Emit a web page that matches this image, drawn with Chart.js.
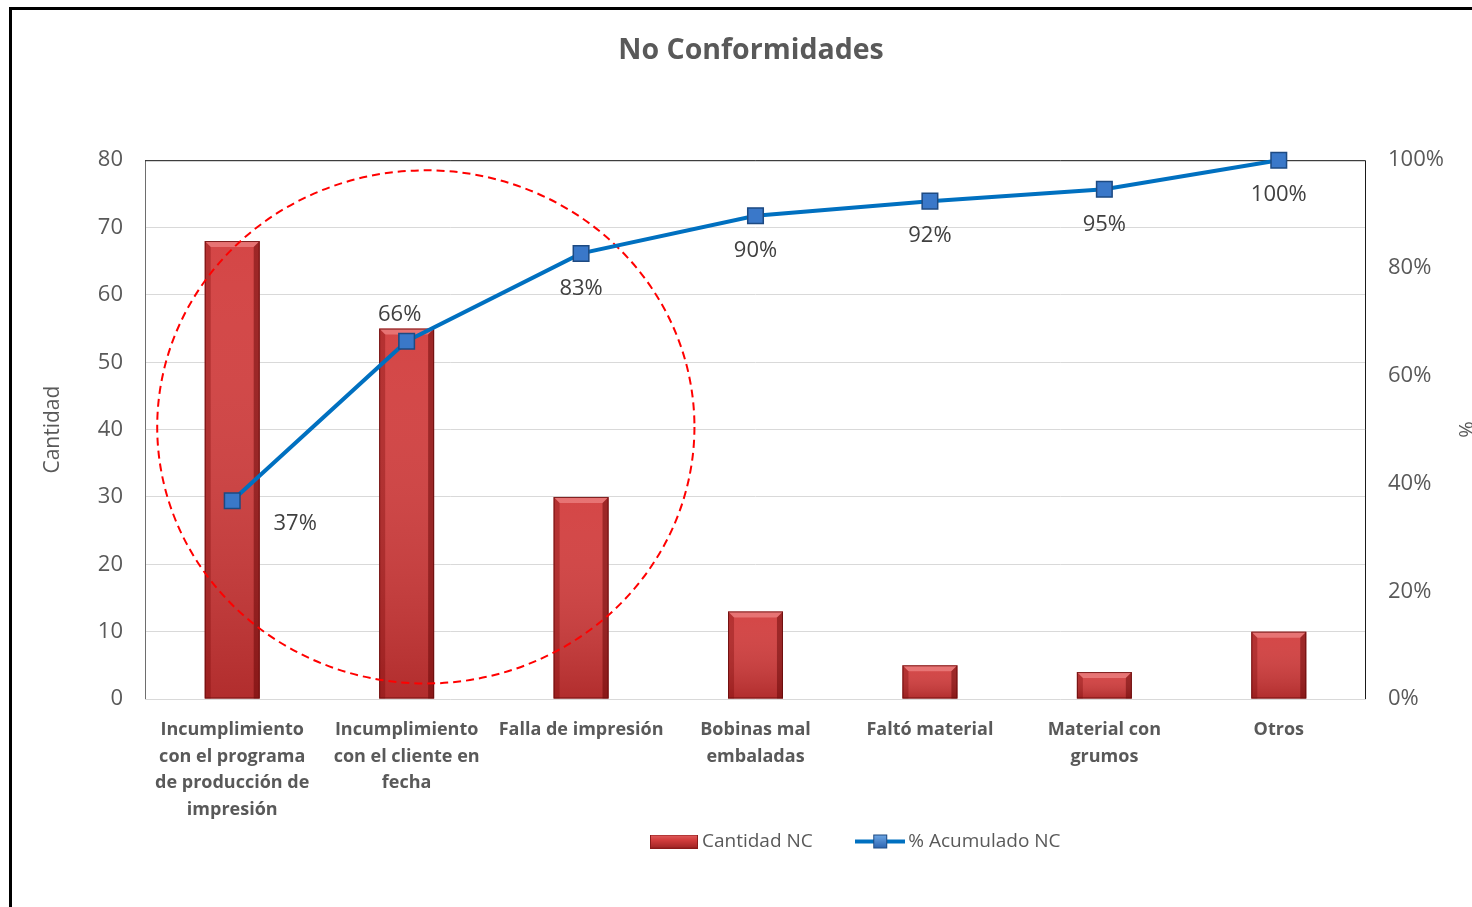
<!DOCTYPE html>
<html lang="es">
<head>
<meta charset="utf-8">
<title>No Conformidades</title>
<script src="https://cdn.jsdelivr.net/npm/chart.js@4.4.1/dist/chart.umd.min.js"></script>
<style>
    html, body { margin: 0; padding: 0; background: #fff; overflow: hidden; }
    #frame { position: absolute; left: 9px; top: 7px; width: 1478px; height: 912px; border: 3px solid #000; background: #fff; }
    #frame canvas { display: block; }
</style>
</head>
<body>
<div id="frame"><canvas id="paretoChart" width="1478" height="912"></canvas></div>
<script>
// Datos del diagrama de Pareto
const categories = [
    ['Incumplimiento', 'con el programa', 'de producción de', 'impresión'],
    ['Incumplimiento', 'con el cliente en', 'fecha'],
    'Falla de impresión',
    ['Bobinas mal', 'embaladas'],
    'Faltó material',
    ['Material con', 'grumos'],
    'Otros'
];
const cantidadNC = [68, 55, 30, 13, 5, 4, 10];
const acumuladoNC = [36.8, 66.4, 82.7, 89.7, 92.4, 94.6, 100];
const cantidadTicks = [0, 80, 10];      // min, max, paso
const porcentajeTicks = [0, 100, 20];   // min, max, paso

// Elipse roja punteada (en unidades de los ejes)
const circleCenter = { index: 1.11, value: 40.4 };
const circleRadius = { index: 1.54, value: 38.1 };

// Posición de las etiquetas de porcentaje respecto al punto
const labelPlacement = ['right', 'above', 'below', 'below', 'below', 'below', 'below'];

const GRAY = '#595959';
const FONT = "'Open Sans', 'DejaVu Sans', sans-serif";

// Iconos de la leyenda
function makeBarIcon() {
    const c = document.createElement('canvas');
    c.width = 48; c.height = 14;
    const g = c.getContext('2d');
    const grad = g.createLinearGradient(0, 0, 0, 14);
    grad.addColorStop(0, '#e06060');
    grad.addColorStop(0.4, '#d23c3c');
    grad.addColorStop(1, '#9e2424');
    g.fillStyle = grad;
    g.fillRect(0, 0, 48, 14);
    g.strokeStyle = '#8b1a1a';
    g.strokeRect(0.5, 0.5, 47, 13);
    return c;
}

function makeLineIcon() {
    const c = document.createElement('canvas');
    c.width = 50; c.height = 18;
    const g = c.getContext('2d');
    g.strokeStyle = '#0070c0';
    g.lineWidth = 4;
    g.beginPath();
    g.moveTo(0, 9); g.lineTo(50, 9);
    g.stroke();
    const grad = g.createLinearGradient(0, 2, 0, 16);
    grad.addColorStop(0, '#6fa8e6');
    grad.addColorStop(1, '#2a62b0');
    g.fillStyle = grad;
    g.fillRect(18, 2, 14, 14);
    g.strokeStyle = '#1d4a82';
    g.lineWidth = 1;
    g.strokeRect(18.5, 2.5, 13, 13);
    return c;
}

// Marco del área de trazado
const plotFrame = {
    id: 'plotFrame',
    beforeDatasetsDraw(chart) {
        const { ctx, chartArea: a } = chart;
        ctx.save();
        ctx.lineWidth = 1;
        ctx.strokeStyle = '#6e6e6e';
        ctx.beginPath();
        ctx.moveTo(a.left + 0.5, a.bottom);
        ctx.lineTo(a.left + 0.5, a.top + 0.5);
        ctx.stroke();
        ctx.strokeStyle = '#1a1a1a';
        ctx.beginPath();
        ctx.moveTo(a.left, a.top + 0.5);
        ctx.lineTo(a.right - 0.5, a.top + 0.5);
        ctx.lineTo(a.right - 0.5, a.bottom);
        ctx.stroke();
        ctx.restore();
    }
};

// Relieve de las barras + elipse por encima de ellas
const barBevel = {
    id: 'barBevel',
    afterDatasetDraw(chart, args) {
        if (args.index !== 0) return;
        const ctx = chart.ctx;
        args.meta.data.forEach(bar => {
            const { x, y, base, width } = bar.getProps(['x', 'y', 'base', 'width'], true);
            const l = x - width / 2, r = x + width / 2, b = 6;
            ctx.save();
            const face = ctx.createLinearGradient(0, y, 0, base);
            face.addColorStop(0, 'rgba(255,255,255,0.05)');
            face.addColorStop(1, 'rgba(80,0,0,0.25)');
            ctx.fillStyle = face;
            ctx.fillRect(l, y, width, base - y);
            // borde superior claro
            ctx.fillStyle = 'rgba(255,170,170,0.45)';
            ctx.beginPath();
            ctx.moveTo(l, y); ctx.lineTo(r, y); ctx.lineTo(r - b, y + b); ctx.lineTo(l + b, y + b);
            ctx.closePath(); ctx.fill();
            // lados oscuros
            ctx.fillStyle = 'rgba(110,0,0,0.30)';
            ctx.beginPath();
            ctx.moveTo(l, y); ctx.lineTo(l + b, y + b); ctx.lineTo(l + b, base); ctx.lineTo(l, base);
            ctx.closePath(); ctx.fill();
            ctx.fillStyle = 'rgba(90,0,0,0.45)';
            ctx.beginPath();
            ctx.moveTo(r, y); ctx.lineTo(r - b, y + b); ctx.lineTo(r - b, base); ctx.lineTo(r, base);
            ctx.closePath(); ctx.fill();
            ctx.strokeStyle = 'rgba(100,10,10,0.8)';
            ctx.lineWidth = 1;
            ctx.strokeRect(l + 0.5, y + 0.5, width - 1, base - y - 1);
            ctx.restore();
        });

        // elipse punteada
        const xs = chart.scales.x, ys = chart.scales.y;
        const cx = xs.getPixelForValue(circleCenter.index);
        const cy = ys.getPixelForValue(circleCenter.value);
        const rx = xs.getPixelForValue(circleCenter.index + circleRadius.index) - cx;
        const ry = cy - ys.getPixelForValue(circleCenter.value + circleRadius.value);
        ctx.save();
        ctx.strokeStyle = '#ff0000';
        ctx.lineWidth = 2;
        ctx.setLineDash([8, 5]);
        ctx.beginPath();
        ctx.ellipse(cx, cy, rx, ry, 0, 0, Math.PI * 2);
        ctx.stroke();
        ctx.restore();
    }
};

// Etiquetas de porcentaje acumulado
const pctLabels = {
    id: 'pctLabels',
    afterDatasetsDraw(chart) {
        const ctx = chart.ctx;
        const meta = chart.getDatasetMeta(1);
        ctx.save();
        ctx.font = '22px ' + FONT;
        ctx.fillStyle = '#404040';
        ctx.textAlign = 'center';
        ctx.textBaseline = 'middle';
        meta.data.forEach((pt, i) => {
            const text = Math.round(acumuladoNC[i]) + '%';
            let dx = 0, dy = 35;
            if (labelPlacement[i] === 'right') { dx = 63; dy = 23; }
            if (labelPlacement[i] === 'above') { dx = -7; dy = -27; }
            ctx.fillText(text, pt.x + dx, pt.y + dy);
        });
        ctx.restore();
    }
};

// Desplazar la leyenda como en el original
const legendShift = {
    id: 'legendShift',
    afterLayout(chart) {
        const lg = chart.legend;
        lg.left += 107; lg.right += 107;
        lg.top -= 40; lg.bottom -= 40;
    }
};

const ctx = document.getElementById('paretoChart').getContext('2d');

new Chart(ctx, {
    data: {
        labels: categories,
        datasets: [
            {
                type: 'bar',
                label: 'Cantidad NC',
                data: cantidadNC,
                yAxisID: 'y',
                backgroundColor: '#d23c3c',
                borderWidth: 0,
                barPercentage: 0.315,
                categoryPercentage: 1,
                order: 2
            },
            {
                type: 'line',
                label: '% Acumulado NC',
                data: acumuladoNC,
                yAxisID: 'y1',
                borderColor: '#0070c0',
                borderWidth: 4,
                tension: 0,
                pointStyle: 'rect',
                pointRadius: 11,
                pointBackgroundColor: '#3a78c9',
                pointBorderColor: '#1d4a82',
                pointBorderWidth: 1.5,
                clip: false,
                order: 1
            }
        ]
    },
    options: {
        responsive: false,
        animation: false,
        layout: { padding: { top: 0, left: 0, right: 0, bottom: 21 } },
        plugins: {
            title: {
                display: true,
                text: 'No Conformidades',
                color: GRAY,
                font: { family: FONT, size: 28.5, weight: 'bold' },
                padding: { top: 24, bottom: 92 }
            },
            legend: {
                position: 'bottom',
                labels: {
                    color: GRAY,
                    font: { family: FONT, size: 19 },
                    usePointStyle: true,
                    pointStyleWidth: 37,
                    padding: 49,
                    generateLabels: () => [
                        { text: 'Cantidad NC', pointStyle: makeBarIcon(), fontColor: GRAY, datasetIndex: 0, lineWidth: 0 },
                        { text: '% Acumulado NC', pointStyle: makeLineIcon(), fontColor: GRAY, datasetIndex: 1, lineWidth: 0 }
                    ]
                }
            },
            tooltip: { enabled: false }
        },
        scales: {
            x: {
                grid: { display: false, drawTicks: false },
                border: { display: false },
                ticks: {
                    color: GRAY,
                    font: { family: FONT, size: 18, weight: 'bold', lineHeight: 1.47 },
                    padding: 18,
                    maxRotation: 0,
                    autoSkip: false
                },
                afterFit: scale => { scale.height = 124; }
            },
            y: {
                position: 'left',
                min: cantidadTicks[0],
                max: cantidadTicks[1],
                ticks: {
                    stepSize: cantidadTicks[2],
                    color: GRAY,
                    font: { family: FONT, size: 22 },
                    padding: 22
                },
                grid: { color: '#d9d9d9', drawTicks: false },
                border: { display: false },
                title: {
                    display: true,
                    text: 'Cantidad',
                    color: GRAY,
                    font: { family: FONT, size: 21 },
                    padding: { top: 28 }
                },
                afterFit: scale => { scale.width = 133; }
            },
            y1: {
                position: 'right',
                min: porcentajeTicks[0],
                max: porcentajeTicks[1],
                ticks: {
                    stepSize: porcentajeTicks[2],
                    color: GRAY,
                    font: { family: FONT, size: 22 },
                    padding: 22,
                    callback: v => v + '%'
                },
                grid: { display: false, drawTicks: false },
                border: { display: false },
                title: {
                    display: true,
                    text: '%',
                    color: GRAY,
                    font: { family: FONT, size: 20 },
                    padding: { top: 13 }
                },
                afterFit: scale => { scale.width = 124; }
            }
        }
    },
    plugins: [plotFrame, barBevel, pctLabels, legendShift]
});
</script>
</body>
</html>
